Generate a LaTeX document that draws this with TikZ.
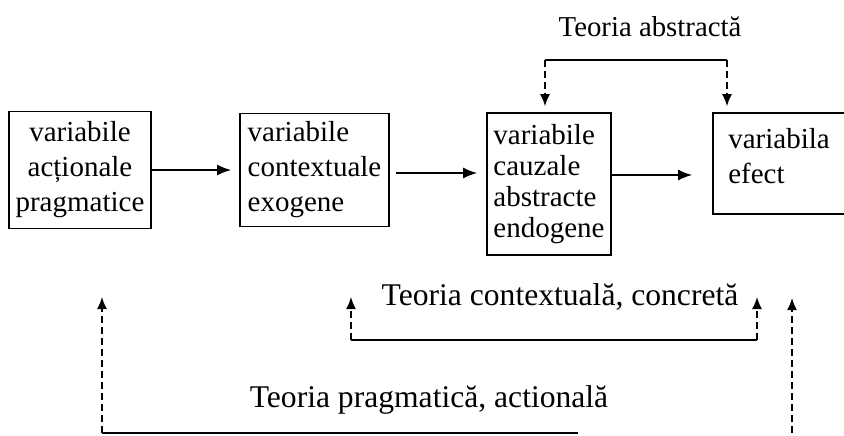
\documentclass[tikz,border=0pt]{standalone}
\usepackage{fontspec}
\setmainfont{Liberation Serif}
\usetikzlibrary{arrows.meta}
\tikzset{
  varbox/.style={draw, line width=0.8pt, inner sep=0pt, font=\fontsize{14.5}{17.5}\selectfont},
  theory/.style={inner sep=0pt, font=\fontsize{15.8}{18}\selectfont},
  solidline/.style={line width=0.9pt},
  dline/.style={line width=0.8pt, dash pattern=on 3.5pt off 2pt},
  ftip/.style={-{Latex[length=7pt,width=5.5pt]}},
  dtip/.style={-{Latex[length=6pt,width=5pt]}}
}
\begin{document}
\begin{tikzpicture}[x=0.5pt,y=-0.5pt]
  \useasboundingbox (0,0) rectangle (844,435);

  \node[varbox, minimum width=71pt, minimum height=58.5pt, align=center] (act) at (80,170) {variabile\\ acționale\\ pragmatice};
  \node[varbox, minimum width=74.5pt, minimum height=56.5pt, align=left] (ctx) at (314.5,170) {variabile\\ contextuale\\ exogene};
  \node[varbox, minimum width=62pt, minimum height=71pt, align=left, font=\fontsize{14.5}{15.5}\selectfont] (cauz) at (549,184) {variabile\\ cauzale\\ abstracte\\ endogene};
  \node[varbox, draw=none, minimum width=65pt, minimum height=49.5pt, align=left] (efect) at (779,156) {variabila\\ efect};
  \draw[line width=0.8pt] ([yshift=-3.75pt]efect.north east) -| ([yshift=-3.75pt]efect.south west) -- ([yshift=-3.75pt]efect.south east);

  \draw[solidline, ftip, shorten >=4pt] (act) -- (ctx);
  \draw[solidline, ftip, shorten <=3pt, shorten >=4.5pt] ([yshift=-1.5pt]ctx.east) -- ([yshift=-1.5pt]ctx.east -| cauz.west);
  \draw[solidline, ftip, shorten >=10.5pt] ([yshift=4.5pt]cauz.east) -- ([yshift=4.5pt]cauz.east -| efect.west);

  \node[inner sep=0pt, font=\fontsize{14.4}{17}\selectfont] (abstr) at (650,27) {Teoria abstractă};
  \coordinate (a1) at (545,60);
  \coordinate (a2) at (727,60);
  \draw[solidline] (a1) -- (a2);
  \draw[dline, dtip, shorten >=3pt] (a1) -- (a1 |- cauz.north);
  \draw[dline, dtip, shorten >=3pt] (a2) -- (a2 |- cauz.north);

  \node[theory] (concr) at (560,297) {Teoria contextuală, concretă};
  \coordinate (c1) at (351,340);
  \coordinate (c2) at (757,340);
  \draw[solidline] (c1) -- (c2);
  \draw[dline, dtip] (c1) -- ++(0,-43);
  \draw[dline, dtip] (c2) -- ++(0,-43);

  \node[theory] (pragm) at (429,400) {Teoria pragmatică, actională};
  \coordinate (p1) at (102,433);
  \coordinate (p2) at (578,433);
  \coordinate (p3) at (792,433);
  \draw[solidline] (p1) -- (p2);
  \draw[dline, dtip] (p1) -- ++(0,-136);
  \draw[dline, dtip] (p3) -- ++(0,-135);
\end{tikzpicture}
\end{document}
